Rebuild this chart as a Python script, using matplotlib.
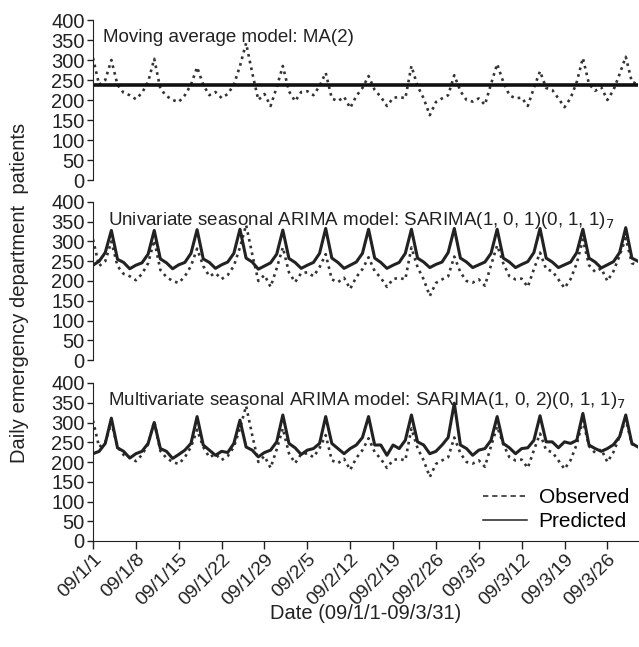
import pandas as pd
import matplotlib
matplotlib.use("Agg")
import matplotlib.pyplot as plt
from matplotlib.lines import Line2D

plt.rcParams['font.family'] = ['Liberation Sans', 'DejaVu Sans']

# daily counts 2009/1/1 - 2009/3/31
observed = [305, 238, 250, 300, 238, 218, 212, 202, 218, 245,
            303, 228, 210, 200, 195, 212, 238, 282, 238, 212,
            220, 205, 215, 238, 285, 342, 268, 200, 215, 185,
            232, 285, 222, 197, 220, 222, 212, 235, 268, 204,
            197, 208, 180, 210, 230, 260, 225, 208, 185, 205,
            208, 204, 285, 235, 204, 162, 195, 204, 212, 262,
            222, 200, 196, 204, 188, 240, 290, 245, 212, 204,
            206, 185, 230, 272, 230, 225, 204, 182, 205, 245,
            305, 240, 223, 232, 200, 225, 265, 308, 245, 240]

ma_level = 238

sarima_uni = [240, 250, 272, 328, 255, 247, 231, 240, 246, 268,
              328, 256, 246, 231, 241, 247, 270, 330, 256, 247,
              232, 241, 248, 270, 331, 258, 248, 230, 238, 246,
              268, 329, 257, 247, 232, 240, 247, 270, 333, 258,
              247, 232, 240, 248, 270, 331, 258, 247, 232, 240,
              247, 270, 331, 258, 248, 234, 242, 248, 272, 333,
              258, 248, 234, 241, 248, 270, 331, 258, 248, 234,
              242, 249, 272, 333, 258, 248, 234, 241, 248, 272,
              331, 258, 248, 233, 241, 249, 272, 335, 258, 250]

sarima_multi = [221, 227, 247, 311, 236, 227, 210, 221, 227, 247,
                300, 234, 227, 209, 219, 230, 247, 315, 243, 230,
                217, 227, 224, 247, 306, 238, 230, 213, 224, 230,
                251, 319, 247, 236, 219, 230, 234, 247, 315, 247,
                234, 221, 234, 243, 262, 315, 243, 243, 217, 243,
                234, 255, 319, 251, 243, 221, 227, 243, 262, 349,
                243, 234, 217, 230, 234, 255, 315, 247, 236, 221,
                234, 236, 255, 317, 251, 251, 236, 251, 247, 255,
                323, 243, 234, 227, 234, 244, 264, 319, 247, 238]

tick_labels = ['09/1/1', '09/1/8', '09/1/15', '09/1/22', '09/1/29', '09/2/5',
               '09/2/12', '09/2/19', '09/2/26', '09/3/5', '09/3/12', '09/3/19',
               '09/3/26']

titles = ['Moving average model: MA(2)',
          'Univariate seasonal ARIMA model: SARIMA(1, 0, 1)(0, 1, 1)$_7$',
          'Multivariate seasonal ARIMA model: SARIMA(1, 0, 2)(0, 1, 1)$_7$']

dates = pd.date_range('2009-01-01', periods=len(observed), freq='D')
tick_dates = dates[::7]

W, H = 639, 647
fig = plt.figure(figsize=(W / 100, H / 100), dpi=100)

# axes boxes in pixels: (left, top of 400, bottom at 0)
boxes = [(93, 20, 180), (93, 202, 360), (93, 383, 541)]
right = 638
axes = []
for (l, t, b) in boxes:
    ax = fig.add_axes([l / W, 1 - b / H, (right - l) / W, (b - t) / H])
    axes.append(ax)

obs_style = dict(color='#333333', linestyle=(0, (1, 1.6)), linewidth=1.9)
pred_style = dict(color='#222222', linestyle='-', linewidth=2.2)

axes[0].plot(dates, observed, **obs_style)
axes[0].plot(dates, [ma_level] * len(dates), color='#111111', linewidth=2.6)
axes[1].plot(dates, observed, **obs_style)
axes[1].plot(dates, sarima_uni, **pred_style)
axes[2].plot(dates, observed, **obs_style)
axes[2].plot(dates, sarima_multi, **pred_style)

title_pos = [(0.018, 0.893), (0.028, 0.886), (0.028, 0.892)]
for i, ax in enumerate(axes):
    ax.set_xlim(dates[0], dates[-1])
    ax.set_ylim(0, 400)
    ax.set_yticks(range(0, 401, 50))
    ax.tick_params(axis='y', direction='out', length=4, width=1,
                   labelsize=14.5, pad=2, colors='#222222')
    for s in ['top', 'right']:
        ax.spines[s].set_visible(False)
    ax.spines['left'].set_color('#222222')
    ax.patch.set_alpha(0)
    ax.text(title_pos[i][0], title_pos[i][1], titles[i], transform=ax.transAxes,
            fontsize=13.5, va='center', ha='left', color='#222222')
    if i < 2:
        ax.spines['bottom'].set_visible(False)
        ax.set_xticks([])

ax = axes[2]
ax.spines['bottom'].set_color('#222222')
ax.set_xticks(tick_dates)
ax.set_xticklabels(tick_labels, rotation=45, ha='right', rotation_mode='anchor')
ax.tick_params(axis='x', direction='out', length=6, width=1,
               labelsize=14, pad=1, colors='#222222')
ax.set_xlabel('Date (09/1/1-09/3/31)', fontsize=14.5, color='#222222')
ax.xaxis.set_label_coords(0.5, (541 - 604) / 158)

handles = [Line2D([], [], color='#222222', linestyle=(0, (3.5, 2.5)), linewidth=1.1),
           Line2D([], [], color='#222222', linestyle='-', linewidth=1.1)]
ax.legend(handles, ['Observed', 'Predicted'], loc='lower right',
          bbox_to_anchor=(629 / W, 1 - 531 / H), bbox_transform=fig.transFigure,
          frameon=False, fontsize=15, handlelength=2.1, handletextpad=0.55,
          labelspacing=0.22, borderpad=0, borderaxespad=0)

fig.text(20 / W, 1 - 293 / H, 'Daily emergency department  patients',
         rotation=90, ha='center', va='center', fontsize=14.5, color='#222222')

fig.savefig('out.png', dpi=100)
